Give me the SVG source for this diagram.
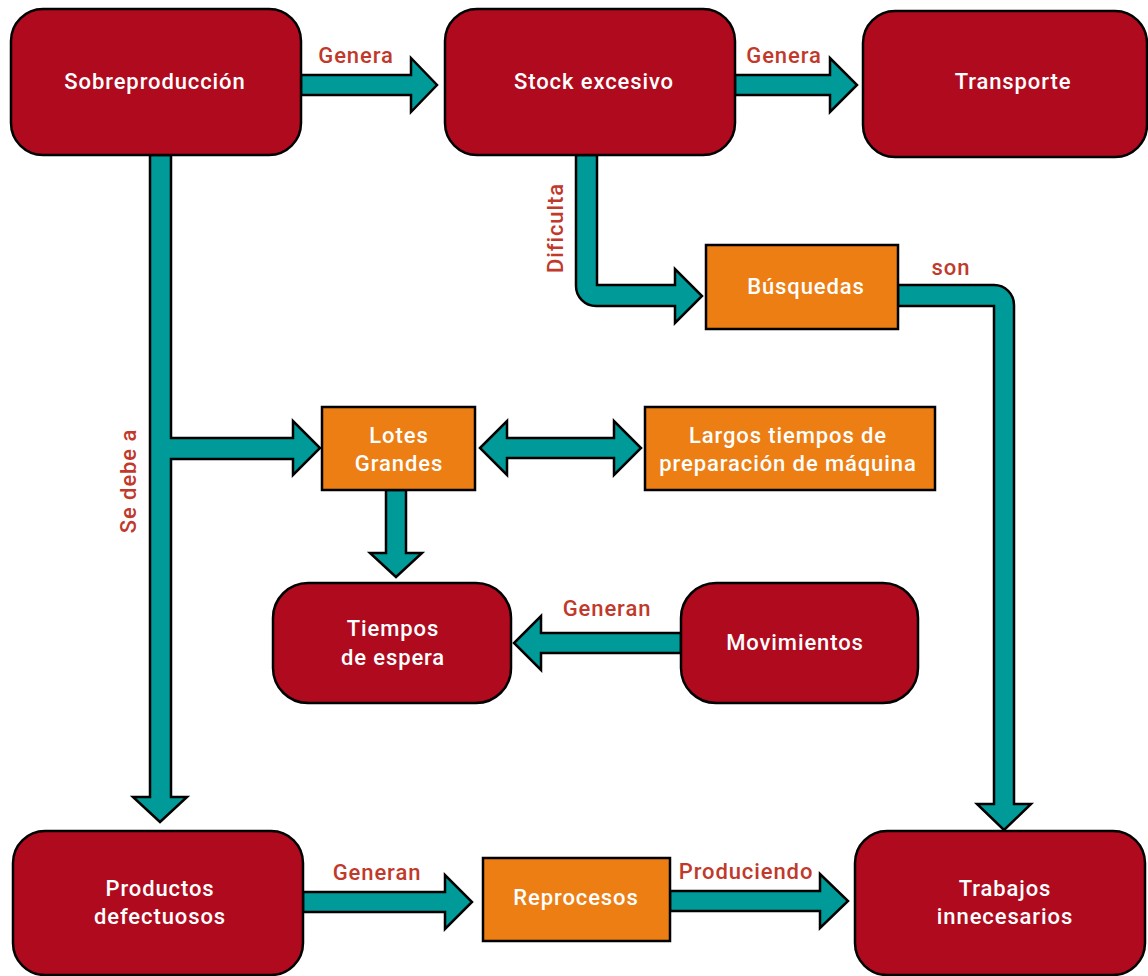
<svg xmlns="http://www.w3.org/2000/svg" width="1148" height="976" viewBox="0 0 1148 976">
<style>
.n{fill:#B00A1E;stroke:#000;stroke-width:2.5}
.o{fill:#EC7E14;stroke:#000;stroke-width:2.5}
.a{fill:#009B98;stroke:#000;stroke-width:2.5;stroke-linejoin:miter}
.t{fill:#fff;font-family:Roboto,"Liberation Sans",sans-serif;font-weight:500;font-size:22px;text-anchor:middle;letter-spacing:0.9px}
.l{fill:#C0392B;font-family:Roboto,"Liberation Sans",sans-serif;font-weight:500;font-size:22px;text-anchor:middle;letter-spacing:0.9px}
</style>
<rect width="1148" height="976" fill="#fff"/>
<g id="connectors">
<path class="a" d="M301,75 L411,75 L411,58 L437,85 L411,112 L411,95 L301,95 Z"/>
<path class="a" d="M735,75 L830,75 L830,58 L857,85 L830,112 L830,95 L735,95 Z"/>
<path class="a" d="M150,155 L150,797 L133,797 L160,822 L187,797 L171,797 L171,459 L293,459 L293,475 L320,448 L293,421 L293,438 L171,438 L171,155 Z"/>
<path class="a" d="M576,155 L576,286 A20,20 0 0 0 596,306 L675,306 L675,323 L702,296 L675,269 L675,285 L597,285 L597,155 Z"/>
<path class="a" d="M898,285 L994,285 A20,20 0 0 1 1014,305 L1014,804 L1031,804 L1004,830 L977,804 L994,804 L994,306 L898,306 Z"/>
<path class="a" d="M480,448 L507,421 L507,438 L614,438 L614,421 L641,448 L614,475 L614,458 L507,458 L507,475 Z"/>
<path class="a" d="M386,490 L386,553 L370,553 L396,577 L422,553 L406,553 L406,490 Z"/>
<path class="a" d="M681,633 L541,633 L541,616 L514,643 L541,670 L541,653 L681,653 Z"/>
<path class="a" d="M303,892 L445,892 L445,875 L472,902 L445,929 L445,912 L303,912 Z"/>
<path class="a" d="M670,891 L820,891 L820,874 L848,901 L820,928 L820,911 L670,911 Z"/>
<text class="l" x="356" y="63">Genera</text>
<text class="l" x="784" y="63">Genera</text>
<text class="l" x="951" y="275">son</text>
<text class="l" x="607" y="616">Generan</text>
<text class="l" x="377" y="880">Generan</text>
<text class="l" x="746" y="879">Produciendo</text>
<text class="l" transform="translate(563,228) rotate(-90)">Dificulta</text>
<text class="l" transform="translate(136,481) rotate(-90)">Se debe a</text>
</g>
<g id="sobreproduccion"><rect class="n" x="11" y="9" width="290" height="146" rx="32"/><text class="t" x="155" y="89">Sobreproducción</text></g>
<g id="stock"><rect class="n" x="445" y="9" width="290" height="146" rx="32"/><text class="t" x="594" y="89">Stock excesivo</text></g>
<g id="transporte"><rect class="n" x="863" y="11" width="284" height="146" rx="32"/><text class="t" x="1013" y="89">Transporte</text></g>
<g id="busquedas"><rect class="o" x="706" y="245" width="192" height="84"/><text class="t" x="806" y="294">Búsquedas</text></g>
<g id="lotes"><rect class="o" x="322" y="407" width="153" height="83"/><text class="t" x="399" y="443">Lotes</text><text class="t" x="399" y="471">Grandes</text></g>
<g id="largos"><rect class="o" x="645" y="407" width="290" height="83"/><text class="t" x="788" y="443">Largos tiempos de</text><text class="t" x="788" y="471">preparación de máquina</text></g>
<g id="tiempos"><rect class="n" x="273" y="583" width="238" height="120" rx="35"/><text class="t" x="393" y="636">Tiempos</text><text class="t" x="393" y="665">de espera</text></g>
<g id="movimientos"><rect class="n" x="681" y="583" width="237" height="120" rx="35"/><text class="t" x="795" y="650">Movimientos</text></g>
<g id="productos"><rect class="n" x="13" y="831" width="290" height="144" rx="32"/><text class="t" x="160" y="896">Productos</text><text class="t" x="160" y="924">defectuosos</text></g>
<g id="reprocesos"><rect class="o" x="483" y="858" width="187" height="83"/><text class="t" x="576" y="905">Reprocesos</text></g>
<g id="trabajos"><rect class="n" x="855" y="831" width="290" height="144" rx="32"/><text class="t" x="1005" y="896">Trabajos</text><text class="t" x="1005" y="924">innecesarios</text></g>
</svg>
